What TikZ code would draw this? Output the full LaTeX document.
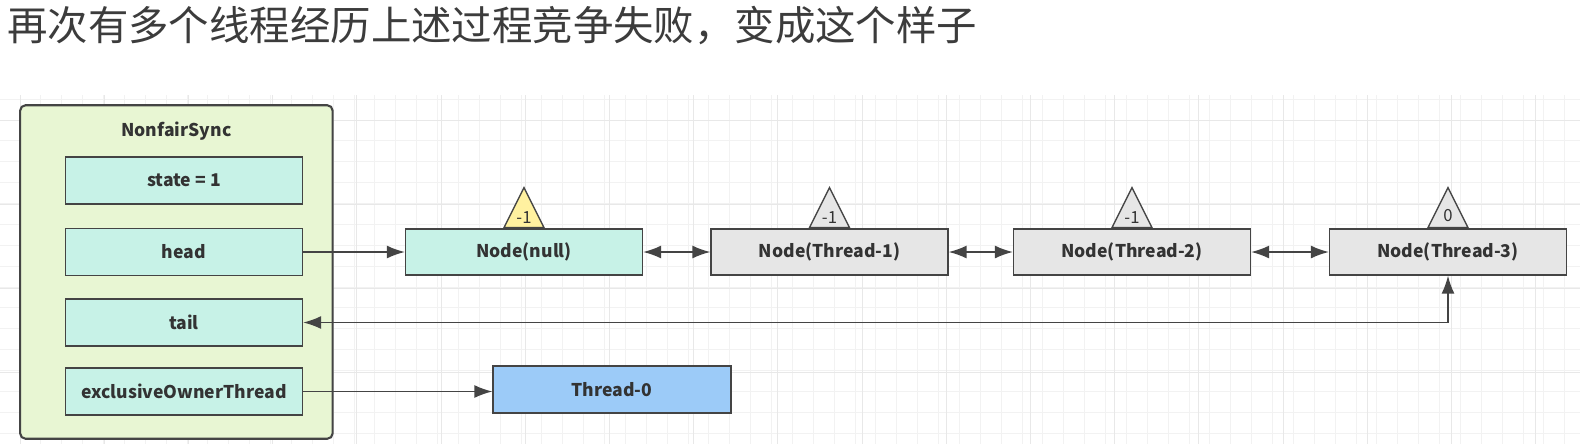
\documentclass[tikz,border=0pt]{standalone}
\usepackage{fontspec}
\setmainfont{Noto Sans CJK SC}
\usetikzlibrary{shapes.geometric,arrows.meta}
\definecolor{syncgreen}{HTML}{E8F6D3}
\definecolor{fieldcyan}{HTML}{C7F2E7}
\definecolor{nodegray}{HTML}{E6E6E6}
\definecolor{flagyellow}{HTML}{FFF1A0}
\definecolor{ownerblue}{HTML}{9CCBF8}
\definecolor{linegray}{HTML}{444444}
\definecolor{textgray}{HTML}{333333}
\definecolor{titlegray}{HTML}{3C3C3C}
\definecolor{gridminor}{HTML}{F2F2F2}
\definecolor{gridmajor}{HTML}{E8E8E8}

\begin{document}
\begin{tikzpicture}[x=0.02cm,y=-0.02cm,
        box/.style={draw=linegray,line width=0.8pt,minimum width=4.74cm,minimum height=0.94cm,inner sep=0pt,
                    text=textgray,font=\bfseries\fontsize{10}{12}\selectfont},
        field/.style={box,fill=fieldcyan},
        qnode/.style={box,minimum height=0.92cm},
        flag/.style={draw=linegray,line width=0.8pt,isosceles triangle,shape border rotate=90,
                     isosceles triangle stretches,minimum width=0.8cm,minimum height=0.8cm,inner sep=0pt,
                     anchor=lower side,text=textgray,font=\fontsize{9.5}{10}\selectfont},
        link/.style={draw=linegray,line width=0.8pt,-{Latex[length=0.36cm,width=0.26cm]}},
        dlink/.style={link,{Latex[length=0.36cm,width=0.26cm]}-{Latex[length=0.36cm,width=0.26cm]}}]
        \useasboundingbox[fill=white] (0,0) rectangle (1580,444);
        % background grid
        \foreach \gx in {0,...,76} \draw[gridminor,line width=0.5pt] ({-0.875+\gx*20.875},95) -- ({-0.875+\gx*20.875},444);
        \foreach \gy in {0,...,16} \draw[gridminor,line width=0.5pt] (0,{99.1+\gy*20.875}) -- (1580,{99.1+\gy*20.875});
        \foreach \gx in {0,...,18} \draw[gridmajor,line width=0.5pt] ({20+\gx*84.2},95) -- ({20+\gx*84.2},444);
        \foreach \gy in {0,...,3} \draw[gridmajor,line width=0.5pt] (0,{120+\gy*84.2}) -- (1580,{120+\gy*84.2});

        \node (title) at (7,26) [anchor=west,text=titlegray,inner sep=0pt,font=\fontsize{23}{28}\selectfont] {再次有多个线程经历上述过程竞争失败，变成这个样子};

        % NonfairSync
        \node (sync) at (176.4,272) [draw=linegray,line width=1.2pt,rounded corners=3pt,fill=syncgreen,
                                  minimum width=6.25cm,minimum height=6.67cm] {};
        \node (syncname) at (176.4,131) [text=textgray,font=\bfseries\fontsize{10}{12}\selectfont] {NonfairSync};
        \node (state) at (184,180.5) [field] {state = 1};
        \node (head) at (184,252) [field] {head};
        \node (tail) at (184,322.5) [field] {tail};
        \node (owner) at (184,391.5) [field] {exclusiveOwnerThread};

        % queue
        \node (n0) at (524,252) [qnode,fill=fieldcyan] {Node(null)};
        \node (n1) at (829.5,252) [qnode,fill=nodegray] {Node(Thread-1)};
        \node (n2) at (1132,252) [qnode,fill=nodegray] {Node(Thread-2)};
        \node (n3) at (1448,252) [qnode,fill=nodegray] {Node(Thread-3)};
        \node (f0) at (n0.north) [flag,fill=flagyellow] {-1};
        \node (f1) at (n1.north) [flag,fill=nodegray] {-1};
        \node (f2) at (n2.north) [flag,fill=nodegray] {-1};
        \node (f3) at (n3.north) [flag,fill=nodegray] {0};

        \node (t0) at (612,389.5) [box,fill=ownerblue,minimum width=4.76cm] {Thread-0};

        \draw[link] (head.east) -- (head.east -| n0.west);
        \draw[dlink] (n0) -- (n1);
        \draw[dlink] (n1) -- (n2);
        \draw[dlink] (n2) -- (n3);
        \draw[dlink] (n3.south) |- (tail.east);
        \draw[link] (owner.east) -- (owner.east -| t0.west);
\end{tikzpicture}
\end{document}
